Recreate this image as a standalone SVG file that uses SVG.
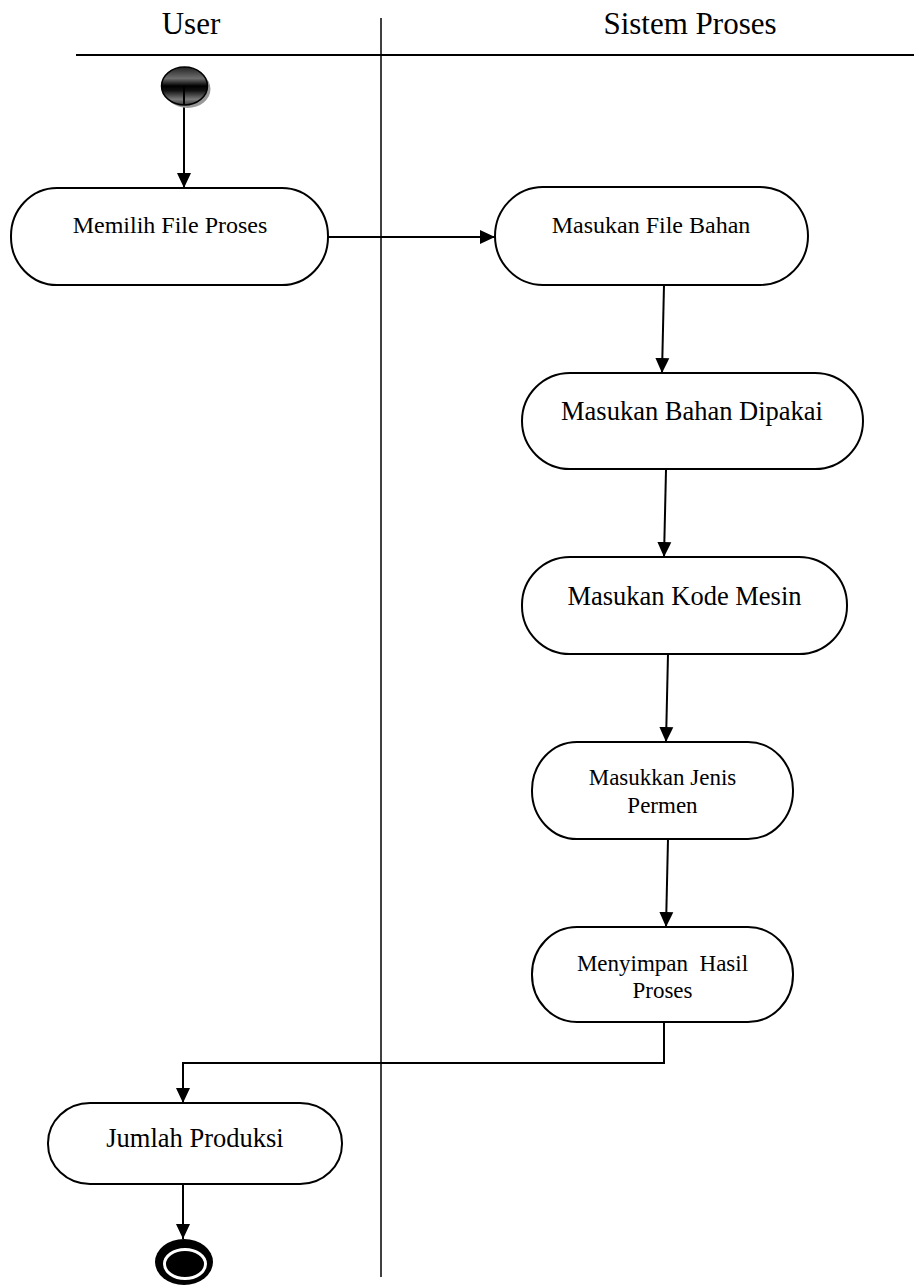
<svg xmlns="http://www.w3.org/2000/svg" width="914" height="1285" viewBox="0 0 914 1285">
<style>
.node{fill:#fff;stroke:#000;stroke-width:2}
.lbl{font-family:"Liberation Serif","Times New Roman",serif;fill:#000;text-anchor:middle}
.hdr{font-family:"Liberation Serif","Times New Roman",serif;fill:#000;text-anchor:middle;font-size:31px}
.conn{fill:none;stroke:#000;stroke-width:2}
.lane{stroke:#000;fill:none}
</style>
<defs>
<marker id="arr" markerUnits="userSpaceOnUse" markerWidth="16" markerHeight="16" viewBox="0 0 16 16" refX="15" refY="8" orient="auto">
<path d="M0,1 L15,8 L0,15 Z" fill="#000"/>
</marker>
<linearGradient id="startGrad" x1="0" y1="0" x2="0" y2="1">
<stop offset="0" stop-color="#222"/>
<stop offset="0.3" stop-color="#6e6e6e"/>
<stop offset="0.5" stop-color="#000"/>
<stop offset="0.62" stop-color="#111"/>
<stop offset="0.85" stop-color="#7a7a7a"/>
<stop offset="1" stop-color="#3a3a3a"/>
</linearGradient>
</defs>
<g id="lanes">
<line class="lane" x1="76" y1="55" x2="914" y2="55" stroke-width="2"/>
<line class="lane" x1="381" y1="18" x2="381" y2="1277" stroke-width="1.5"/>
<text class="hdr" x="191" y="34">User</text>
<text class="hdr" x="690" y="34">Sistem Proses</text>
</g>
<g id="connectors">
<line class="conn" x1="184" y1="98" x2="184" y2="188" marker-end="url(#arr)"/>
<line class="conn" x1="328" y1="237" x2="495" y2="237" marker-end="url(#arr)"/>
<line class="conn" x1="664" y1="285" x2="662" y2="373" marker-end="url(#arr)"/>
<line class="conn" x1="666" y1="470" x2="664" y2="557" marker-end="url(#arr)"/>
<line class="conn" x1="668" y1="654" x2="666" y2="742" marker-end="url(#arr)"/>
<line class="conn" x1="668" y1="839" x2="666" y2="927" marker-end="url(#arr)"/>
<polyline class="conn" points="664,1022 664,1063 183,1063 183,1103" marker-end="url(#arr)"/>
<line class="conn" x1="183" y1="1185" x2="183" y2="1239" marker-end="url(#arr)"/>
</g>
<g id="start">
<ellipse cx="187.5" cy="89" rx="23" ry="19" fill="#999"/>
<ellipse cx="184.5" cy="86" rx="23" ry="19" fill="url(#startGrad)" stroke="#000" stroke-width="1.5"/>
<line x1="184" y1="86" x2="184" y2="105" stroke="#000" stroke-width="2"/>
</g>
<g id="n1">
<rect class="node" x="11" y="188" width="317" height="97" rx="46" ry="48"/>
<text class="lbl" x="170" y="233" font-size="24">Memilih File Proses</text>
</g>
<g id="n2">
<rect class="node" x="495" y="187" width="313" height="98" rx="48" ry="49"/>
<text class="lbl" x="651" y="233" font-size="24">Masukan File Bahan</text>
</g>
<g id="n3">
<rect class="node" x="522" y="373" width="341" height="96" rx="48" ry="48"/>
<text class="lbl" x="692" y="420" font-size="26.5">Masukan Bahan Dipakai</text>
</g>
<g id="n4">
<rect class="node" x="522" y="557" width="325" height="97" rx="48" ry="48"/>
<text class="lbl" x="684.5" y="605" font-size="26.5">Masukan Kode Mesin</text>
</g>
<g id="n5">
<rect class="node" x="532" y="742" width="261" height="97" rx="45" ry="48"/>
<text class="lbl" x="662.5" y="785" font-size="23">Masukkan Jenis</text>
<text class="lbl" x="662.5" y="813" font-size="23">Permen</text>
</g>
<g id="n6">
<rect class="node" x="532" y="927" width="261" height="95" rx="45" ry="47"/>
<text class="lbl" x="662.5" y="971" font-size="23" xml:space="preserve">Menyimpan  Hasil</text>
<text class="lbl" x="662.5" y="998" font-size="23">Proses</text>
</g>
<g id="n7">
<rect class="node" x="48" y="1103" width="294" height="81" rx="42" ry="40"/>
<text class="lbl" x="195" y="1147" font-size="26.5">Jumlah Produksi</text>
</g>
<g id="end">
<ellipse cx="184" cy="1262" rx="29" ry="23" fill="#000"/>
<ellipse cx="185" cy="1264" rx="20.5" ry="14.5" fill="#000" stroke="#fff" stroke-width="3"/>
</g>
</svg>
